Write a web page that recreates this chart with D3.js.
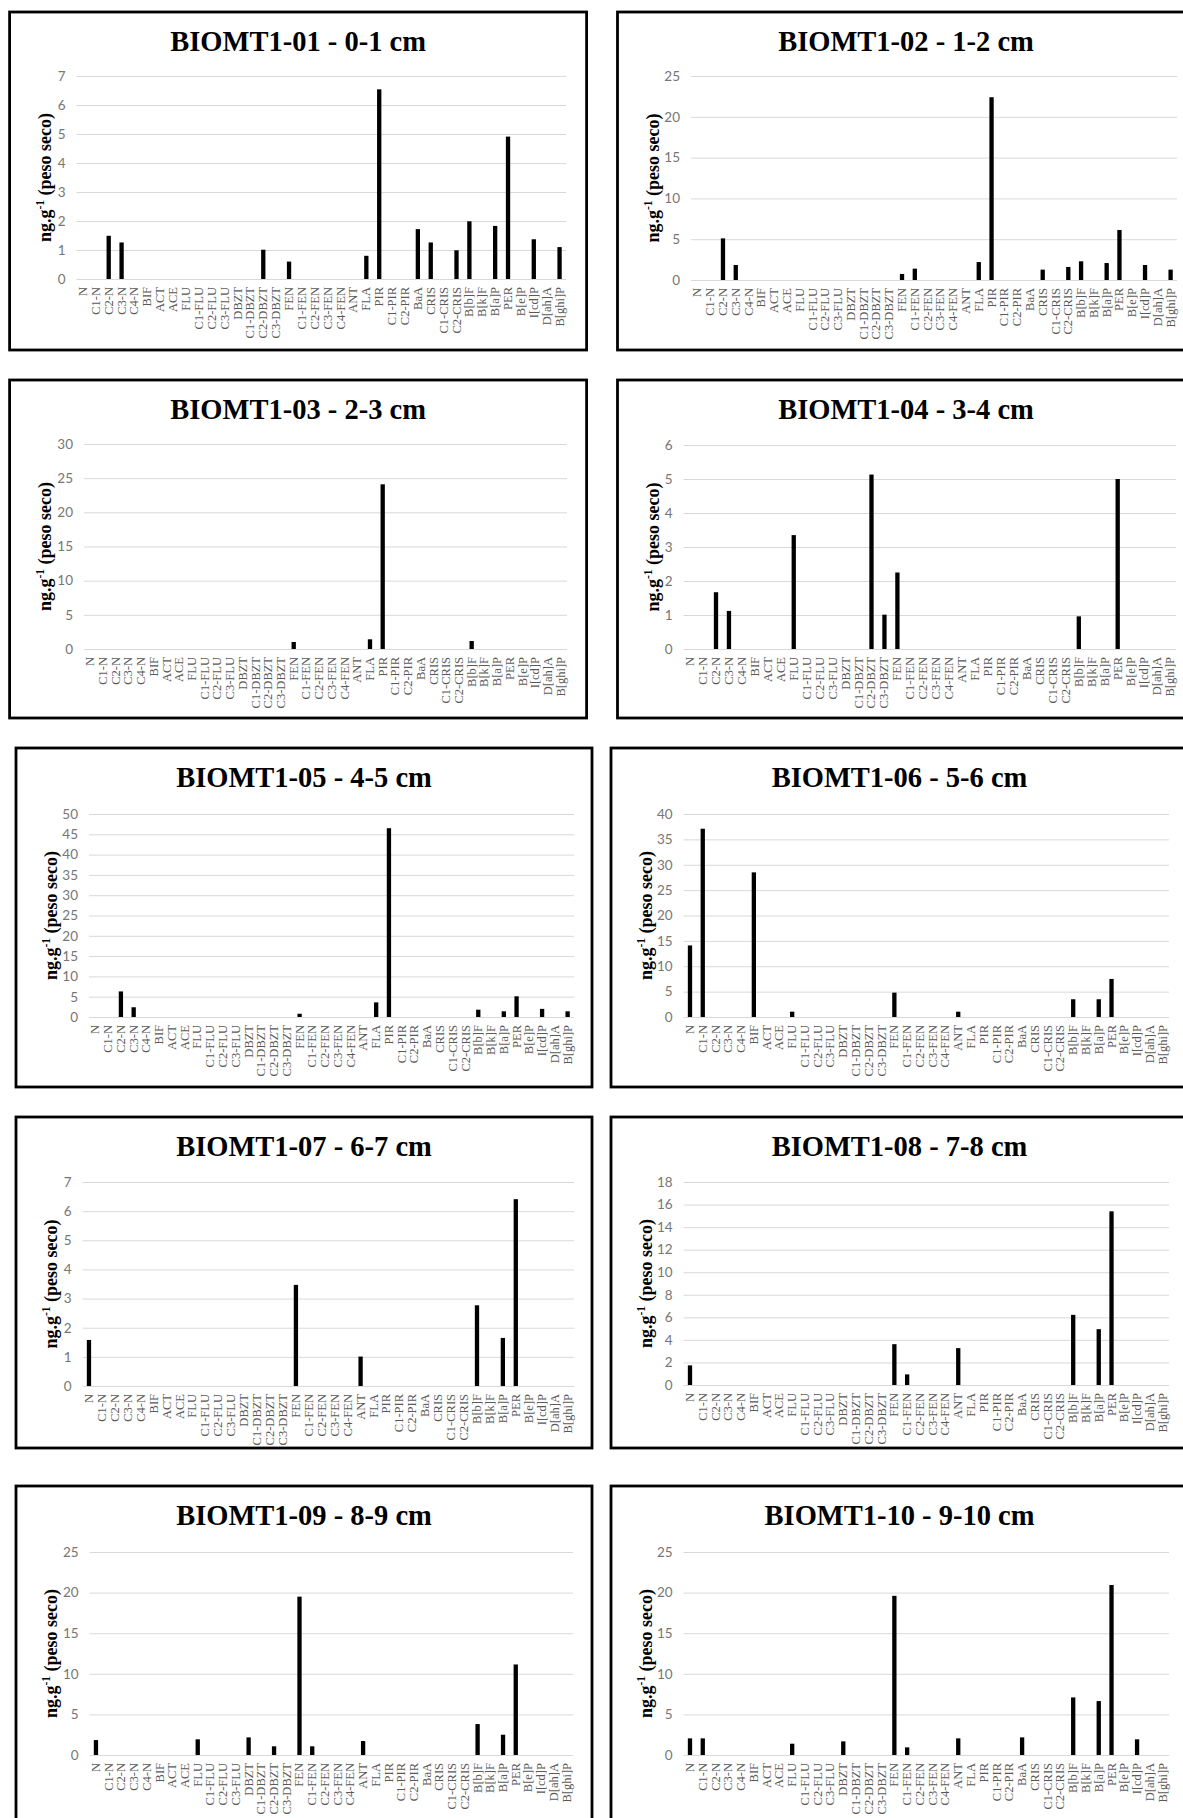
<!DOCTYPE html>
<html><head><meta charset="utf-8">
<script src="https://cdn.jsdelivr.net/npm/d3@7"></script>
<style>body{margin:0;background:#fff;overflow:hidden;} svg{display:block;}</style>
</head><body>
<script>
const categories = ["N","C1-N","C2-N","C3-N","C4-N","BIF","ACT","ACE","FLU","C1-FLU","C2-FLU","C3-FLU","DBZT","C1-DBZT","C2-DBZT","C3-DBZT","FEN","C1-FEN","C2-FEN","C3-FEN","C4-FEN","ANT","FLA","PIR","C1-PIR","C2-PIR","BaA","CRIS","C1-CRIS","C2-CRIS","B[b]F","B[k]F","B[a]P","PER","B[e]P","I[cd]P","D[ah]A","B[ghi]P"];

const titles = ["BIOMT1-01 - 0-1 cm","BIOMT1-02 - 1-2 cm","BIOMT1-03 - 2-3 cm","BIOMT1-04 - 3-4 cm","BIOMT1-05 - 4-5 cm","BIOMT1-06 - 5-6 cm","BIOMT1-07 - 6-7 cm","BIOMT1-08 - 7-8 cm","BIOMT1-09 - 8-9 cm","BIOMT1-10 - 9-10 cm"];

const yMax  = [7, 25, 30, 6, 50, 40, 7, 18, 25, 25];
const yStep = [1, 5, 5, 1, 5, 5, 1, 2, 5, 5];

const v01 = [0,0,1.49,1.26,0, 0,0,0,0,0, 0,0,0,0,1.01, 0,0.60,0,0,0, 0,0,0.80,6.54,0, 0,1.72,1.26,0,0.99, 1.99,0,1.83,4.91,0, 1.37,0,1.10];
const v02 = [0,0,5.1,1.84,0, 0,0,0,0,0, 0,0,0,0,0, 0,0.74,1.39,0,0, 0,0,2.2,22.4,0, 0,0,1.27,0,1.6, 2.29,0,2.08,6.13,0, 1.84,0,1.27];
const v03 = [0,0,0,0,0, 0,0,0,0,0, 0,0,0,0,0, 0,1.03,0,0,0, 0,0,1.42,24.1,0, 0,0,0,0,0, 1.17,0,0,0,0, 0,0,0];
const v04 = [0,0,1.67,1.12,0, 0,0,0,3.35,0, 0,0,0,0,5.13, 1.01,2.25,0,0,0, 0,0,0,0,0, 0,0,0,0,0, 0.96,0,0,5.0,0, 0,0,0];
const v05 = [0,0,6.3,2.4,0, 0,0,0,0,0, 0,0,0,0,0, 0,0.8,0,0,0, 0,0,3.6,46.5,0, 0,0,0,0,0, 1.8,0,1.4,5.1,0, 2.0,0,1.4];
const v06 = [14.1,37.1,0,0,0, 28.5,0,0,1.05,0, 0,0,0,0,0, 0,4.8,0,0,0, 0,1.05,0,0,0, 0,0,0,0,0, 3.5,0,3.5,7.5,0, 0,0,0];
const v07 = [1.58,0,0,0,0, 0,0,0,0,0, 0,0,0,0,0, 0,3.47,0,0,0, 0,1.01,0,0,0, 0,0,0,0,0, 2.77,0,1.65,6.41,0, 0,0,0];
const v08 = [1.74,0,0,0,0, 0,0,0,0,0, 0,0,0,0,0, 0,3.62,0.94,0,0, 0,3.27,0,0,0, 0,0,0,0,0, 6.22,0,4.95,15.4,0, 0,0,0];
const v09 = [1.84,0,0,0,0, 0,0,0,1.93,0, 0,0,2.17,0,1.07, 0,19.5,1.07,0,0, 0,1.72,0,0,0, 0,0,0,0,0, 3.81,0,2.5,11.15,0, 0,0,0];
const v10 = [2.05,2.05,0,0,0, 0,0,0,1.39,0, 0,0,1.68,0,0, 0,19.6,0.94,0,0, 0,2.05,0,0,0, 0,2.17,0,0,0, 7.09,0,6.64,20.94,0, 1.93,0,0];
const seriesList = [v01,v02,v03,v04,v05,v06,v07,v08,v09,v10];

// layout: frame [x,y,w,h], plot [x0,x1,yTop,yZero]
const layout = [
  {frame:[9.6,12,577,338],   plot:[76.5,566,76,279]},
  {frame:[617.5,12,577,338], plot:[691,1177,76,280]},
  {frame:[9.6,380,577,338],  plot:[84,567,444,649]},
  {frame:[617.5,380,577,338],plot:[683.6,1176,445,649]},
  {frame:[16,748,576,339],   plot:[89,574,814,1017]},
  {frame:[611,748,577,339],  plot:[683.6,1169,814,1017]},
  {frame:[16,1117,576,331],  plot:[82.5,574,1182,1386]},
  {frame:[611,1117,577,331], plot:[683.6,1169,1182,1385]},
  {frame:[16,1486,576,400],  plot:[89.6,573,1552,1755]},
  {frame:[611,1486,577,400], plot:[683.6,1169,1552,1755]}
];

const W = 1183, H = 1818;
const serif = "'Liberation Serif','Times New Roman',serif";
const sans = "Lato,'Open Sans',sans-serif";

const svg = d3.select("body").append("svg").attr("width", W).attr("height", H);
svg.append("rect").attr("width", W).attr("height", H).attr("fill", "#fff");

layout.forEach((L, i) => {
  const [fx, fy, fw, fh] = L.frame;
  const [x0, x1, yT, yZ] = L.plot;
  const g = svg.append("g");
  const vals = seriesList[i];

  const x = d3.scaleBand().domain(categories).range([x0, x1]).paddingInner(0).paddingOuter(0);
  const y = d3.scaleLinear().domain([0, yMax[i]]).range([yZ, yT]);
  const ticks = d3.range(0, yMax[i] + yStep[i] / 2, yStep[i]);

  // frame
  g.append("rect").attr("x", fx).attr("y", fy).attr("width", fw).attr("height", fh)
    .attr("fill", "#fff").attr("stroke", "#000").attr("stroke-width", 2.8);

  // title
  g.append("text").attr("x", fx + fw / 2).attr("y", fy + 39)
    .attr("text-anchor", "middle").attr("font-family", serif)
    .attr("font-weight", "bold").attr("font-size", 28.5).attr("fill", "#000")
    .text(titles[i]);

  // y axis (gridlines + labels)
  const yAxis = d3.axisLeft(y).tickValues(ticks).tickSize(-(x1 - x0)).tickPadding(11)
    .tickFormat(d3.format("d"));
  const ya = g.append("g").attr("transform", `translate(${x0},0)`).call(yAxis);
  ya.select(".domain").remove();
  ya.selectAll(".tick line").attr("stroke", "#d9d9d9").attr("stroke-width", 1);
  ya.selectAll(".tick text").attr("font-family", sans).attr("font-size", 13.5).attr("fill", "#767676");

  // x axis labels
  const xAxis = d3.axisBottom(x).tickSize(0).tickPadding(0);
  const xa = g.append("g").attr("transform", `translate(0,${yZ})`).call(xAxis);
  xa.select(".domain").remove();
  xa.selectAll(".tick text")
    .attr("font-family", serif).attr("font-size", 12.5).attr("fill", "#595959")
    .attr("text-anchor", "end").attr("dy", null)
    .attr("transform", "translate(0,8) rotate(-90)")
    .attr("x", 0).attr("y", 0).attr("dominant-baseline", "central");

  // bars
  const bw = 4.3;
  g.append("g").selectAll("rect").data(categories.map((c, k) => ({c, v: vals[k]})).filter(d => d.v > 0))
    .join("rect")
    .attr("x", d => x(d.c) + x.bandwidth() / 2 - bw / 2)
    .attr("width", bw)
    .attr("y", d => y(d.v))
    .attr("height", d => yZ - y(d.v))
    .attr("fill", "#000");

  // y label
  const yl = g.append("text")
    .attr("transform", `translate(${fx + 41},${(yT + yZ) / 2}) rotate(-90)`)
    .attr("text-anchor", "middle").attr("font-family", serif)
    .attr("font-weight", "bold").attr("font-size", 18).attr("fill", "#000");
  yl.append("tspan").text("ng.g");
  yl.append("tspan").attr("dy", -7).attr("font-size", 11.5).text("-1");
  yl.append("tspan").attr("dy", 7).text(" (peso seco)");
});
</script>
</body></html>
